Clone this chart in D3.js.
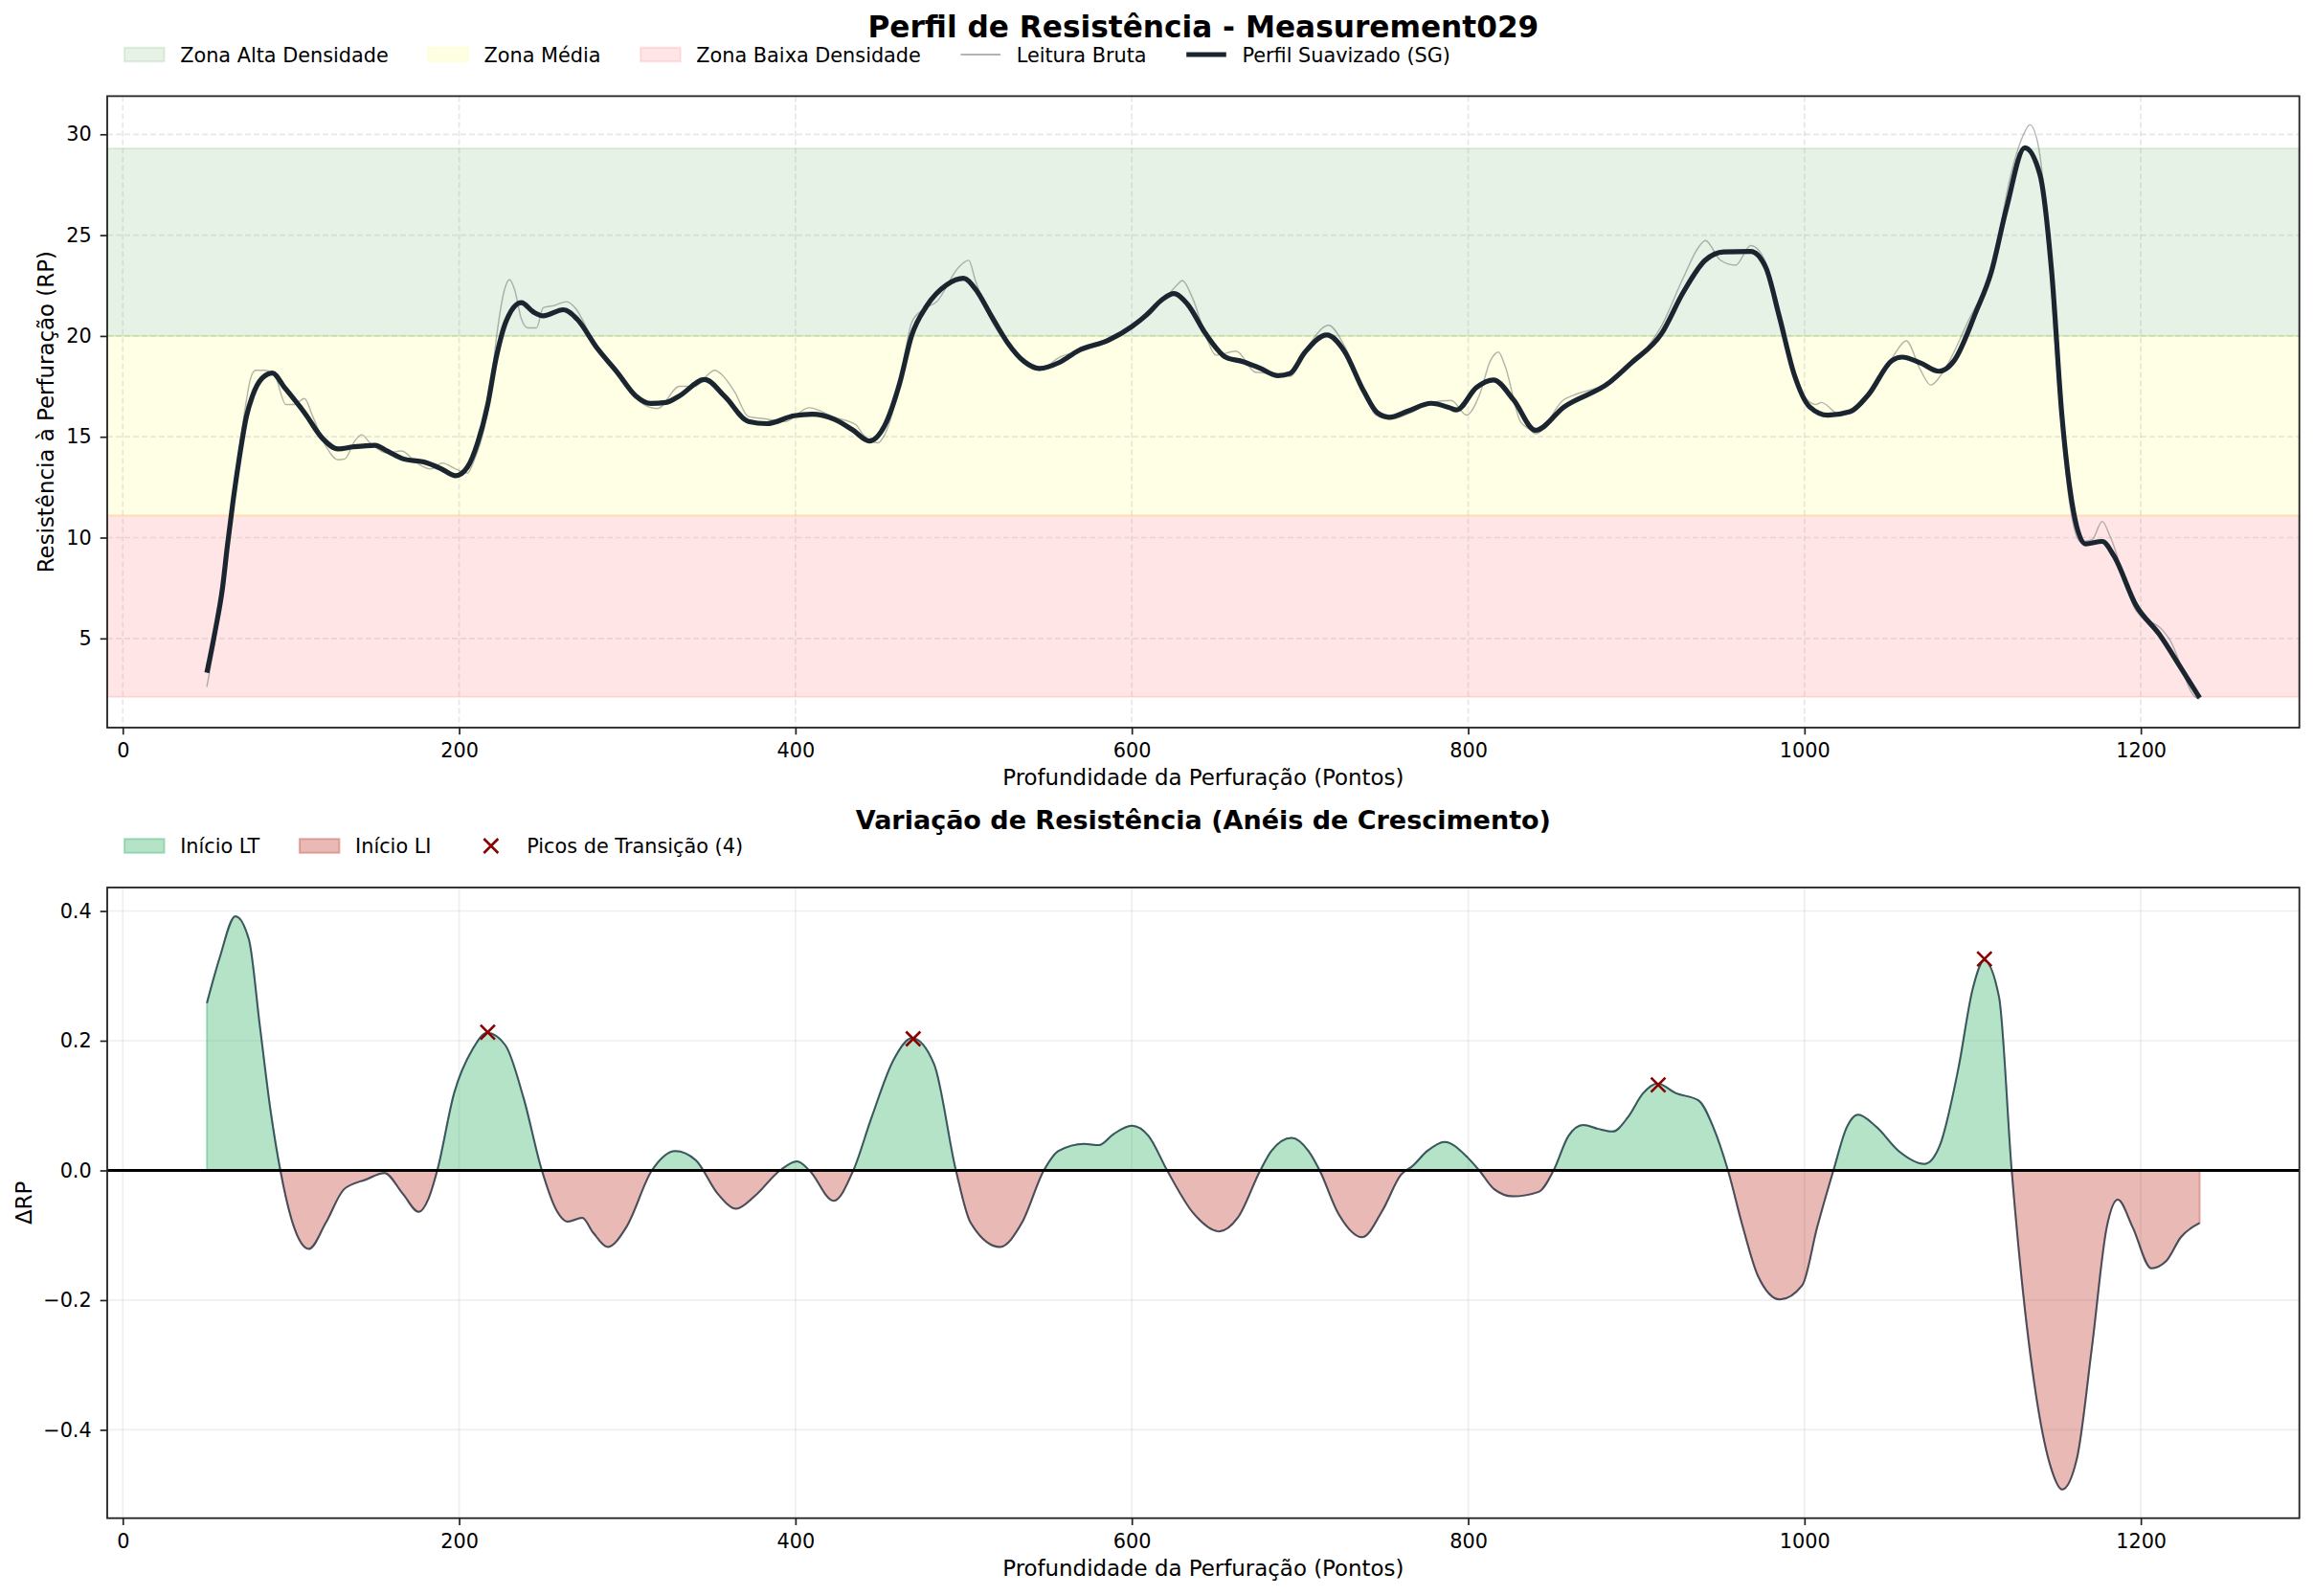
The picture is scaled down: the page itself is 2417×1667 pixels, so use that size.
<!DOCTYPE html>
<html>
<head>
<meta charset="utf-8">
<script src="https://cdn.jsdelivr.net/npm/d3@7"></script>
<style>
  body { margin: 0; background: #fff; }
  text { font-family: "DejaVu Sans", sans-serif; fill: #000; }
</style>
</head>
<body>
<svg></svg>
<script>
// ---- data ----
let smoothDepth = [50, 55, 59.3, 62.2, 65.4, 69.2, 73.5, 77, 82.8, 89, 96, 108, 119, 128, 137, 150, 157, 167, 179, 189, 198,
  205, 211, 217, 222, 228, 237, 244, 250, 262, 270, 282, 294, 305, 314, 323, 331, 346, 358, 372, 383,
  399, 410, 423, 434, 444, 453, 462, 469, 478, 490, 500, 507, 516, 526, 536, 545, 557, 568, 586, 600,
  609, 618, 625, 633, 644, 656, 666, 676, 687, 694, 703, 716, 726, 738, 746, 753, 764, 778, 789, 793,
  805, 815, 827, 840, 857, 884, 897, 915, 928, 941, 952, 968, 977, 985, 994, 1003, 1014, 1027, 1038, 1052,
  1058, 1069, 1080, 1089, 1102, 1111, 1120, 1131, 1140, 1147, 1153, 1160, 1167, 1177, 1184, 1197, 1211, 1224, 1235];
let smoothRP = [3.3, 5.4, 7.5, 9.6, 11.7, 13.9, 16.0, 17.0, 17.9, 18.16, 17.46, 16.2, 14.9, 14.4, 14.5, 14.58, 14.3, 13.9, 13.75, 13.43, 13.07,
  13.5, 14.7, 16.6, 18.9, 20.74, 21.65, 21.2, 21.0, 21.3, 20.85, 19.4, 18.2, 17.03, 16.65, 16.7, 17.03, 17.84, 17.0, 15.76, 15.65,
  16.04, 16.12, 15.87, 15.34, 14.79, 15.55, 17.67, 20.0, 21.48, 22.54, 22.86, 22.33, 21.06, 19.68, 18.73, 18.39, 18.69, 19.26, 19.79, 20.47,
  21.06, 21.8, 22.1, 21.59, 20.1, 18.94, 18.73, 18.41, 18.03, 18.14, 19.2, 20.05, 19.3, 17.25, 16.19, 15.97, 16.27, 16.66, 16.44, 16.33,
  17.45, 17.82, 16.83, 15.32, 16.48, 17.69, 18.66, 20.12, 22.18, 23.76, 24.17, 24.19, 23.39, 20.97, 18.06, 16.49, 16.07, 16.24, 17.09, 18.78,
  18.95, 18.66, 18.25, 18.78, 21.2, 23.15, 26.3, 29.33, 28.0, 23.15, 16.12, 11.27, 9.69, 9.81, 9.09, 6.66, 5.2, 3.51, 2.05];

let rawDepth = [50, 55, 59.3, 62.2, 65.4, 69.2, 73.5, 76, 79, 84, 90, 97, 102, 108, 113, 121, 128, 132, 138, 142, 147, 157,
  166, 174, 183, 190, 198, 205, 209, 214, 218, 222, 227, 230, 233, 237, 241, 246, 250, 256, 264, 269,
  279, 289, 300, 308, 318, 331, 340, 352, 356, 364, 372, 381, 394, 408, 423, 436, 440, 449, 453, 461,
  469, 475, 484, 497, 503, 507, 516, 526, 545, 557, 570, 586, 600, 609, 618, 627, 630, 636, 644, 650,
  662, 673.5, 688, 694, 705.5, 717, 726, 737, 745, 754, 766, 778, 790, 799, 807, 813, 818, 822, 831, 837,
  840, 857, 864, 884, 897, 915, 928, 937, 941, 950, 959, 968, 977, 985, 996, 1007, 1010, 1021, 1034, 1052,
  1060.5, 1069, 1075, 1083, 1096, 1113.5, 1122, 1130, 1134, 1139, 1144, 1151, 1158, 1164, 1171, 1177, 1182, 1197, 1213, 1217,
  1233, 1235];
let rawRP = [2.6, 5.0, 7.4, 9.6, 11.9, 14.3, 16.8, 17.9, 18.3, 18.3, 18.1, 16.6, 16.6, 16.9, 16.0, 14.5, 13.86, 13.9, 14.8, 15.1, 14.7, 14.2,
  14.3, 13.75, 13.4, 13.7, 13.4, 13.2, 13.85, 15.1, 16.8, 19.8, 22.3, 22.8, 22.3, 20.85, 20.4, 20.4, 21.4, 21.5, 21.7, 21.4,
  19.9, 18.8, 17.4, 16.7, 16.4, 17.5, 17.5, 18.3, 18.1, 17.2, 16.0, 15.9, 15.76, 16.44, 15.97, 15.59, 15.13, 14.7, 15.1, 17.25,
  20.64, 21.27, 21.7, 23.4, 23.75, 22.75, 20.85, 19.6, 18.3, 18.94, 19.3, 19.7, 20.4, 21.2, 21.7, 22.54, 22.75, 21.9, 20.0, 19.05,
  19.25, 18.2, 18.1, 18.0, 19.58, 20.53, 19.58, 17.5, 16.08, 15.87, 16.2, 16.7, 16.8, 16.08, 17.14, 18.73, 19.2, 18.5, 15.76, 15.34,
  15.15, 16.85, 17.1, 17.7, 18.6, 20.5, 22.9, 24.4, 24.73, 23.76, 23.51, 24.48, 23.64, 21.2, 17.57, 16.6, 16.7, 16.1, 16.6, 18.9,
  19.76, 18.3, 17.57, 18.3, 20.5, 24.1, 27.76, 29.94, 30.47, 29.45, 25.82, 17.33, 11.5, 9.8, 9.9, 10.8, 10.0, 6.4, 5.4, 4.96,
  2.05, 2.0];

let deltaDepth = [50, 57.5, 67, 75, 81.5, 88, 93.7, 101, 110.7, 120.7, 131.6, 144.7, 155.6, 166.5, 176, 181.7, 187, 197, 207.8, 216.6,
  227.5, 238.3, 249.2, 258, 264.5, 273.2, 279.7, 288.5, 299.3, 314.6, 328.5, 340.7, 353.8, 364.7, 375.6, 390.8, 400.9, 408.3, 422.7, 434.4,
  445.3, 458.4, 469.3, 482.4, 495.4, 504.2, 521.6, 534.6, 547.7, 556.4, 571.7, 580.4, 589.1, 600, 610, 621, 636.6, 652, 663, 676.4,
  683, 695, 705, 711.7, 722.7, 737, 749, 760, 767, 775.7, 786, 800, 806.6, 815.5, 826.5, 842, 850.8, 859.6, 868.4, 877.3,
  886, 895, 904, 912.6, 923.6, 937, 945.7, 954.5, 963.4, 972.2, 985.4, 998.7, 1007.5, 1017.2, 1025.2, 1031.8, 1042.8, 1056, 1071.5, 1080.4,
  1091.4, 1100.2, 1106.8, 1115.7, 1123.2, 1128.9, 1137.7, 1146.6, 1153.2, 1162, 1170.9, 1179.7, 1186.3, 1195.2, 1206.2, 1215, 1223.8, 1235];
let deltaRP = [0.258, 0.327, 0.392, 0.356, 0.223, 0.09, 0, -0.081, -0.121, -0.081, -0.029, -0.014, -0.004, -0.036, -0.064, -0.044, 0, 0.119, 0.186, 0.212,
  0.193, 0.112, 0, -0.062, -0.079, -0.073, -0.096, -0.118, -0.088, 0, 0.030, 0.016, -0.036, -0.059, -0.04, 0, 0.014, 0, -0.047, 0,
  0.082, 0.171, 0.204, 0.164, 0, -0.081, -0.118, -0.081, 0, 0.030, 0.041, 0.039, 0.056, 0.069, 0.053, 0, -0.066, -0.094, -0.073, 0,
  0.030, 0.050, 0.030, 0, -0.066, -0.103, -0.062, -0.007, 0.007, 0.030, 0.044, 0.019, 0, -0.029, -0.040, -0.033, 0, 0.053, 0.070, 0.064,
  0.060, 0.082, 0.119, 0.134, 0.119, 0.108, 0.067, 0, -0.088, -0.162, -0.199, -0.177, -0.088, 0, 0.067, 0.086, 0.067, 0.030, 0.010, 0.038,
  0.156, 0.282, 0.324, 0.267, 0, -0.162, -0.347, -0.459, -0.492, -0.444, -0.273, -0.088, -0.045, -0.088, -0.151, -0.14, -0.103, -0.081];

let peakDepth = [217, 470, 913, 1107];
let peakDelta = [0.213, 0.203, 0.132, 0.326];

let zoneBounds = [2.1, 11.1, 20.0, 29.3];
let zoneNames = ['Zona Baixa Densidade', 'Zona Média', 'Zona Alta Densidade'];
let zoneColors = ['red', 'yellow', 'green'];

let xTicks = [0, 200, 400, 600, 800, 1000, 1200];
let rpTicks = [5, 10, 15, 20, 25, 30];
let deltaTicks = [-0.4, -0.2, 0.0, 0.2, 0.4];

// ---- layout ----
let width = 2417;
let height = 1667;
let left = 112;
let right = 2401.7;
let topPanel = { y0: 100.4, y1: 760 };
let botPanel = { y0: 927, y1: 1585.7 };

let svg = d3.select('svg').attr('width', width).attr('height', height);

let padExtent = (arr) => {
  let [lo, hi] = d3.extent(arr);
  let p = (hi - lo) * 0.05;
  return [lo - p, hi + p];
}

let xScale = d3.scaleLinear().domain(padExtent(smoothDepth)).range([left, right]);
let yTop = d3.scaleLinear().domain(padExtent(rawRP.concat(smoothRP))).range([topPanel.y1, topPanel.y0]);
let yBot = d3.scaleLinear().domain(padExtent(deltaRP)).range([botPanel.y1, botPanel.y0]);

let smoothData = smoothDepth.map((d, i) => ({ d: d, v: smoothRP[i] }));
let rawData = rawDepth.map((d, i) => ({ d: d, v: rawRP[i] }));
let deltaData = deltaDepth.map((d, i) => ({ d: d, v: deltaRP[i] }));
let peakData = peakDepth.map((d, i) => ({ d: d, v: peakDelta[i] }));

let xPath = () => 'M-7.5,-7.5L7.5,7.5M-7.5,7.5L7.5,-7.5';

let drawGrid = (panel, yScale, yTicks, dashed, alpha) => {
  let g = svg.append('g');
  xTicks.forEach(t => {
    g.append('line')
      .attr('x1', xScale(t)).attr('x2', xScale(t))
      .attr('y1', panel.y0).attr('y2', panel.y1)
      .attr('stroke', '#b0b0b0').attr('stroke-opacity', alpha).attr('stroke-width', 1.7)
      .attr('stroke-dasharray', dashed ? '6,3' : null);
  });
  yTicks.forEach(t => {
    g.append('line')
      .attr('x1', left).attr('x2', right)
      .attr('y1', yScale(t)).attr('y2', yScale(t))
      .attr('stroke', '#b0b0b0').attr('stroke-opacity', alpha).attr('stroke-width', 1.7)
      .attr('stroke-dasharray', dashed ? '6,3' : null);
  });
}

let drawAxes = (panel, yScale, yTicks, yFormat) => {
  let xAxis = d3.axisBottom(xScale).tickValues(xTicks).tickSize(7.3).tickPadding(9).tickSizeOuter(0)
    .tickFormat(d3.format('d'));
  let gx = svg.append('g').attr('transform', `translate(0, ${panel.y1})`).call(xAxis);
  let yAxis = d3.axisLeft(yScale).tickValues(yTicks).tickSize(7.3).tickPadding(9).tickSizeOuter(0).tickFormat(yFormat);
  let gy = svg.append('g').attr('transform', `translate(${left}, 0)`).call(yAxis);
  [gx, gy].forEach(g => {
    g.select('.domain').remove();
    g.selectAll('.tick line').attr('stroke', '#222').attr('stroke-width', 1.7);
    g.selectAll('.tick text').style('font-size', '20.8px').style('font-family', '"DejaVu Sans", sans-serif').attr('fill', '#000');
  });
  svg.append('rect')
    .attr('x', left).attr('y', panel.y0)
    .attr('width', right - left).attr('height', panel.y1 - panel.y0)
    .attr('fill', 'none').attr('stroke', '#222').attr('stroke-width', 1.8);
}

let drawLegend = (items, x0, cy) => {
  let g = svg.append('g');
  let x = x0;
  items.forEach(item => {
    if (item.type === 'patch') {
      g.append('rect')
        .attr('x', x).attr('y', cy - 7.3).attr('width', 41.6).attr('height', 14.6)
        .attr('fill', item.color).attr('fill-opacity', item.alpha)
        .attr('stroke', item.color).attr('stroke-opacity', item.alpha).attr('stroke-width', 2);
    } else if (item.type === 'line') {
      g.append('line')
        .attr('x1', x).attr('x2', x + 41.6).attr('y1', cy).attr('y2', cy)
        .attr('stroke', item.color).attr('stroke-opacity', item.alpha).attr('stroke-width', item.lw);
    } else {
      g.append('path').attr('d', xPath())
        .attr('transform', `translate(${x + 20.8}, ${cy})`)
        .attr('stroke', item.color).attr('stroke-width', 2.6).attr('fill', 'none');
    }
    let t = g.append('text')
      .attr('x', x + 41.6 + 16.6).attr('y', cy + 7.6)
      .style('font-size', '20.8px')
      .text(item.label);
    x = x + 41.6 + 16.6 + t.node().getComputedTextLength() + 41.6;
  });
}

let drawTitles = () => {
  let cx = (left + right) / 2;
  svg.append('text').attr('x', cx).attr('y', 39).attr('text-anchor', 'middle')
    .style('font-size', '31.2px').style('font-weight', 'bold')
    .text('Perfil de Resistência - Measurement029');
  svg.append('text').attr('x', cx).attr('y', 866).attr('text-anchor', 'middle')
    .style('font-size', '27px').style('font-weight', 'bold')
    .text('Variação de Resistência (Anéis de Crescimento)');
  [topPanel, botPanel].forEach(p => {
    svg.append('text').attr('x', cx).attr('y', p.y1 + 60).attr('text-anchor', 'middle')
      .style('font-size', '22.9px')
      .text('Profundidade da Perfuração (Pontos)');
  });
  let cyTop = (topPanel.y0 + topPanel.y1) / 2;
  svg.append('text').attr('transform', `translate(56, ${cyTop}) rotate(-90)`).attr('text-anchor', 'middle')
    .style('font-size', '22.9px').text('Resistência à Perfuração (RP)');
  let cyBot = (botPanel.y0 + botPanel.y1) / 2;
  svg.append('text').attr('transform', `translate(33, ${cyBot}) rotate(-90)`).attr('text-anchor', 'middle')
    .style('font-size', '22.9px').text('ΔRP');
}

let drawTop = () => {
  zoneNames.forEach((name, i) => {
    let yA = yTop(zoneBounds[i + 1]);
    let yB = yTop(zoneBounds[i]);
    svg.append('rect')
      .attr('x', left).attr('y', yA).attr('width', right - left).attr('height', yB - yA)
      .attr('fill', zoneColors[i]).attr('fill-opacity', 0.1)
      .attr('stroke', zoneColors[i]).attr('stroke-opacity', 0.1).attr('stroke-width', 2);
  });
  drawGrid(topPanel, yTop, rpTicks, true, 0.3);

  let line = d3.line().x(p => xScale(p.d)).y(p => yTop(p.v)).curve(d3.curveMonotoneX);
  svg.append('path').datum(rawData).attr('d', line)
    .attr('fill', 'none').attr('stroke', '#808080').attr('stroke-opacity', 0.6).attr('stroke-width', 1.4);
  svg.append('path').datum(smoothData).attr('d', line)
    .attr('fill', 'none').attr('stroke', '#1a2530').attr('stroke-width', 5.2)
    .attr('stroke-linejoin', 'round');

  drawAxes(topPanel, yTop, rpTicks, d3.format('d'));
}

let drawBottom = () => {
  drawGrid(botPanel, yBot, deltaTicks, false, 0.2);
  let zeroY = yBot(0);
  let defs = svg.append('defs');
  defs.append('clipPath').attr('id', 'clipPos').append('rect')
    .attr('x', left).attr('y', botPanel.y0).attr('width', right - left).attr('height', zeroY - botPanel.y0);
  defs.append('clipPath').attr('id', 'clipNeg').append('rect')
    .attr('x', left).attr('y', zeroY).attr('width', right - left).attr('height', botPanel.y1 - zeroY);

  let area = d3.area().x(p => xScale(p.d)).y0(zeroY).y1(p => yBot(p.v)).curve(d3.curveMonotoneX);
  [['clipPos', '#27ae60'], ['clipNeg', '#c0392b']].forEach(([clip, color]) => {
    svg.append('path').datum(deltaData).attr('d', area)
      .attr('clip-path', `url(#${clip})`)
      .attr('fill', color).attr('fill-opacity', 0.35)
      .attr('stroke', color).attr('stroke-opacity', 0.35).attr('stroke-width', 2);
  });
  let line = d3.line().x(p => xScale(p.d)).y(p => yBot(p.v)).curve(d3.curveMonotoneX);
  svg.append('path').datum(deltaData).attr('d', line)
    .attr('fill', 'none').attr('stroke', '#2c3e50').attr('stroke-opacity', 0.85).attr('stroke-width', 2);

  svg.append('line').attr('x1', left).attr('x2', right).attr('y1', zeroY).attr('y2', zeroY)
    .attr('stroke', '#000').attr('stroke-width', 3);

  svg.selectAll('.peak').data(peakData).enter().append('path')
    .attr('class', 'peak').attr('d', xPath())
    .attr('transform', p => `translate(${xScale(p.d)}, ${yBot(p.v)})`)
    .attr('stroke', '#8b0000').attr('stroke-width', 2.6).attr('fill', 'none');

  drawAxes(botPanel, yBot, deltaTicks, d3.format('.1f'));
}

drawTop();
drawBottom();
drawTitles();
drawLegend([
  { type: 'patch', color: 'green', alpha: 0.1, label: 'Zona Alta Densidade' },
  { type: 'patch', color: 'yellow', alpha: 0.1, label: 'Zona Média' },
  { type: 'patch', color: 'red', alpha: 0.1, label: 'Zona Baixa Densidade' },
  { type: 'line', color: '#808080', alpha: 0.6, lw: 2, label: 'Leitura Bruta' },
  { type: 'line', color: '#1a2530', alpha: 1, lw: 5.2, label: 'Perfil Suavizado (SG)' }
], 130, 57);
drawLegend([
  { type: 'patch', color: '#27ae60', alpha: 0.35, label: 'Início LT' },
  { type: 'patch', color: '#c0392b', alpha: 0.35, label: 'Início LI' },
  { type: 'marker', color: '#8b0000', label: `Picos de Transição (${peakDepth.length})` }
], 130, 883.5);
</script>
</body>
</html>
